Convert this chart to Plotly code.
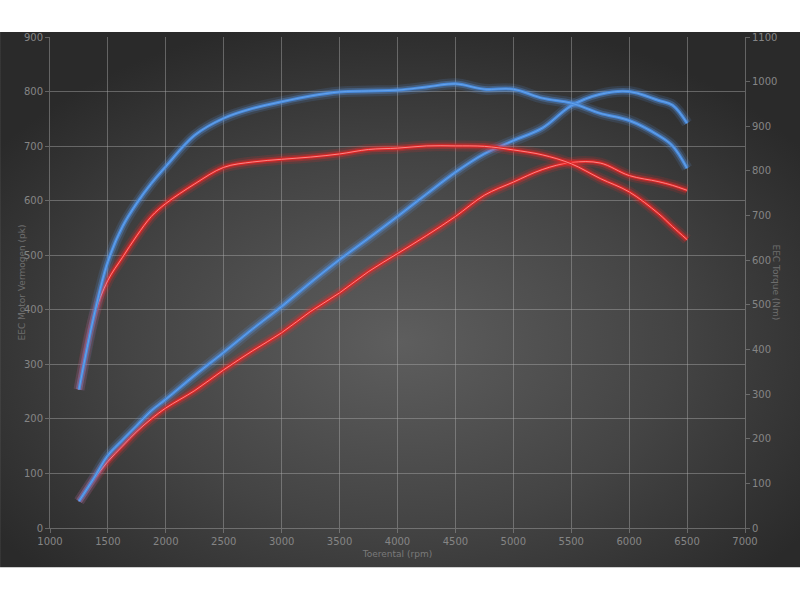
import base64
import plotly.graph_objects as go

# dyno run: toerental (rpm) vs vermogen (pk) and koppel (Nm)
rpm = [1250, 1375, 1500, 1625, 1750, 1875, 2000, 2250, 2500, 2750, 3000, 3250, 3500,
       3750, 4000, 4250, 4500, 4750, 5000, 5250, 5500, 5750, 6000, 6250, 6375, 6500]

# vermogen (pk), left axis
power_blue_pk = [49, 90, 133, 161, 188, 215, 236, 280, 322, 365, 406, 450, 492,
                 531, 571, 612, 652, 686, 710, 733, 774, 795, 800, 784, 775, 742]
power_red_pk = [49, 88, 122, 150, 177, 200, 220, 252, 290, 325, 358, 397, 431,
                470, 503, 536, 571, 610, 634, 657, 670, 669, 646, 635, 628, 619]

# koppel (Nm), right axis
torque_blue_nm = [310, 470, 597, 675, 728, 772, 810, 880, 918, 940, 955, 968, 977,
                  979, 981, 988, 995, 983, 983, 963, 952, 929, 913, 880, 856, 806]
torque_red_nm = [310, 470, 555, 606, 655, 698, 727, 771, 808, 820, 826, 831, 838,
                 848, 851, 856, 856, 855, 847, 836, 816, 783, 753, 705, 675, 646]

x_ticks = list(range(1000, 7001, 500))
left_ticks = list(range(0, 901, 100))
right_ticks = list(range(0, 1101, 100))

GRID = "rgba(170,170,170,0.45)"
TICKFONT = dict(family="DejaVu Sans", size=10, color="#858585")

# radial background as an inline svg
svg = """<svg xmlns='http://www.w3.org/2000/svg' width='800' height='536'>
<defs><radialGradient id='g' cx='50%' cy='58%' r='62%'>
<stop offset='0%' stop-color='#5e5e5e'/>
<stop offset='55%' stop-color='#444444'/>
<stop offset='100%' stop-color='#2a2a2a'/>
</radialGradient></defs>
<rect width='800' height='536' fill='url(#g)'/></svg>"""
bg_src = "data:image/svg+xml;base64," + base64.b64encode(svg.encode()).decode()


def glow_line(fig, y, yaxis, glow, core, centre):
    shape = dict(shape="spline", smoothing=1.0)
    # soft halo, then the line itself, then a thin bright centre
    fig.add_trace(go.Scatter(x=rpm, y=y, yaxis=yaxis, mode="lines",
                             line=dict(color=glow.replace("A", "0.14"), width=11, **shape),
                             hoverinfo="skip"))
    fig.add_trace(go.Scatter(x=rpm, y=y, yaxis=yaxis, mode="lines",
                             line=dict(color=glow.replace("A", "0.30"), width=6.5, **shape),
                             hoverinfo="skip"))
    fig.add_trace(go.Scatter(x=rpm, y=y, yaxis=yaxis, mode="lines",
                             line=dict(color=core, width=3, **shape), hoverinfo="skip"))
    fig.add_trace(go.Scatter(x=rpm, y=y, yaxis=yaxis, mode="lines",
                             line=dict(color=centre, width=1, **shape)))


fig = go.Figure()

red_glow, red_core, red_centre = "rgba(255,40,40,A)", "rgb(222,38,38)", "rgba(255,150,150,0.85)"
blue_glow, blue_core, blue_centre = "rgba(90,155,240,A)", "rgb(72,138,220)", "rgba(105,165,235,0.9)"

glow_line(fig, torque_red_nm, "y2", red_glow, red_core, red_centre)
glow_line(fig, power_red_pk, "y", red_glow, red_core, red_centre)
glow_line(fig, torque_blue_nm, "y2", blue_glow, blue_core, blue_centre)
glow_line(fig, power_blue_pk, "y", blue_glow, blue_core, blue_centre)

fig.update_layout(
    width=800, height=600,
    margin=dict(l=50, r=55, t=37, b=71.5),
    paper_bgcolor="white",
    plot_bgcolor="rgba(0,0,0,0)",
    showlegend=False,
    xaxis=dict(range=[1000, 7000], tickvals=x_ticks, showgrid=True, gridcolor=GRID,
               zeroline=False, showline=True, linecolor=GRID, ticks="outside",
               ticklen=4, tickcolor=GRID, tickfont=TICKFONT,
               title=dict(text="Toerental (rpm)", standoff=4,
                          font=dict(family="DejaVu Sans", size=9, color="#7a7a7a"))),
    yaxis=dict(range=[0, 900], tickvals=left_ticks, showgrid=True, gridcolor=GRID,
               zeroline=False, showline=True, linecolor=GRID, ticks="outside",
               ticklen=4, tickcolor=GRID, tickfont=TICKFONT),
    yaxis2=dict(range=[0, 1100], tickvals=right_ticks, overlaying="y", side="right",
                showgrid=False, zeroline=False, showline=True, linecolor=GRID,
                ticks="outside", ticklen=4, tickcolor=GRID, tickfont=TICKFONT),
    images=[dict(source=bg_src, xref="paper", yref="paper", x=-0.0719, y=1.0102,
                 sizex=1.1511, sizey=1.0906, xanchor="left", yanchor="top",
                 sizing="stretch", layer="below")],
    annotations=[
        dict(text="EEC Motor Vermogen (pk)", xref="paper", yref="paper",
             x=-0.0504, y=0.5, textangle=-90, showarrow=False,
             font=dict(family="DejaVu Sans", size=9, color="#6e6e6e")),
        dict(text="EEC Torque (Nm)", xref="paper", yref="paper",
             x=1.0547, y=0.5, textangle=90, showarrow=False,
             font=dict(family="DejaVu Sans", size=9, color="#6e6e6e")),
    ],
)

fig.write_html("out.html", config={"displayModeBar": False},
               post_script="document.body.style.margin='0';")
